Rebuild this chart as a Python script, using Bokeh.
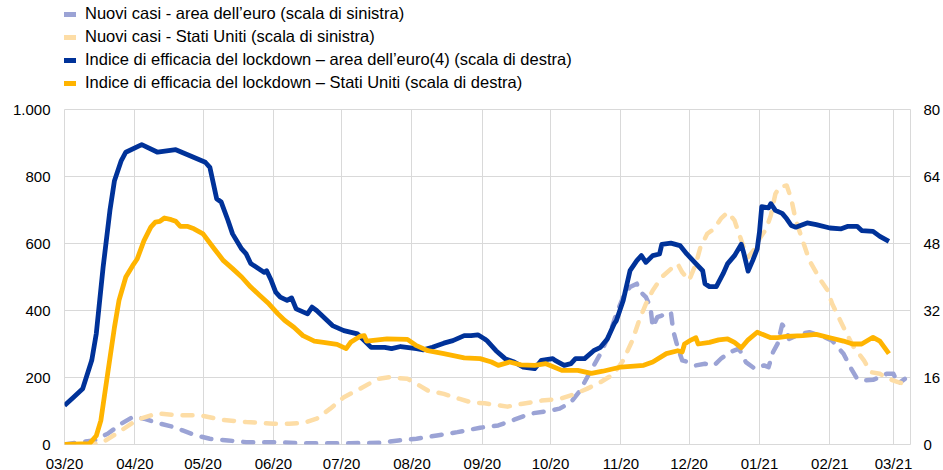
import pandas as pd
from bokeh.plotting import figure
from bokeh.layouts import column
from bokeh.models import (Range1d, LinearAxis, FixedTicker, DatetimeTickFormatter,
                          Legend, LegendItem)
from bokeh.embed import file_html
from bokeh.resources import INLINE

# ---------------- data ----------------
ea_idx_dates = ["2020-03-01","2020-03-05","2020-03-09","2020-03-13","2020-03-15","2020-03-18","2020-03-21",
    "2020-03-23","2020-03-26","2020-03-28","2020-04-04","2020-04-11","2020-04-19","2020-04-25","2020-05-02",
    "2020-05-04","2020-05-07","2020-05-09","2020-05-12","2020-05-14","2020-05-18","2020-05-20","2020-05-22",
    "2020-05-28","2020-05-29","2020-05-31","2020-06-02","2020-06-04","2020-06-07","2020-06-09","2020-06-11",
    "2020-06-16","2020-06-18","2020-06-20","2020-06-27","2020-07-02","2020-07-08","2020-07-11","2020-07-14",
    "2020-07-20","2020-07-23","2020-07-27","2020-08-03","2020-08-06","2020-08-10","2020-08-15","2020-08-19",
    "2020-08-24","2020-08-27","2020-08-30","2020-09-02","2020-09-03","2020-09-07","2020-09-11","2020-09-15",
    "2020-09-19","2020-09-24","2020-09-27","2020-10-02","2020-10-03","2020-10-07","2020-10-10","2020-10-12",
    "2020-10-16","2020-10-20","2020-10-23","2020-10-26","2020-10-29","2020-10-30","2020-11-02","2020-11-05",
    "2020-11-08","2020-11-10","2020-11-12","2020-11-15","2020-11-18","2020-11-19","2020-11-23","2020-11-27",
    "2020-11-30","2020-12-04","2020-12-07","2020-12-08","2020-12-10","2020-12-13","2020-12-16","2020-12-18",
    "2020-12-21","2020-12-24","2020-12-25","2020-12-27","2020-12-29","2020-12-31","2021-01-01","2021-01-02",
    "2021-01-05","2021-01-06","2021-01-08","2021-01-11","2021-01-13","2021-01-15","2021-01-17","2021-01-22",
    "2021-01-26","2021-02-01","2021-02-06","2021-02-09","2021-02-13","2021-02-15","2021-02-20","2021-02-23",
    "2021-02-27"]
ea_idx_values = [9.3,11.3,13.3,20.1,26.5,42.3,55.9,63.0,67.8,69.8,71.6,69.8,70.4,69.0,67.4,
    66.2,58.7,57.9,53.5,50.3,46.7,45.5,43.2,41.1,41.5,39.2,36.4,35.2,34.4,35.0,32.4,
    31.2,32.8,32.0,28.4,27.2,26.4,24.8,23.2,23.2,22.9,23.4,22.9,22.6,23.2,24.2,24.8,
    26.0,26.0,26.2,25.2,24.8,22.4,20.5,19.7,18.5,18.1,20.1,20.5,20.1,18.9,19.3,20.5,
    20.5,22.4,23.2,25.2,28.8,29.6,34.4,41.5,43.9,45.1,43.5,45.1,45.5,47.8,48.1,47.5,
    45.5,43.2,41.5,38.4,37.7,37.7,40.8,43.2,45.1,47.8,45.9,41.4,43.9,46.7,50.7,56.8,
    56.5,57.5,55.9,55.2,53.9,52.3,51.9,52.9,52.5,51.7,51.5,52.1,52.1,51.1,50.9,49.7,
    48.5]

us_idx_dates = ["2020-03-01","2020-03-12","2020-03-15","2020-03-17","2020-03-20","2020-03-23","2020-03-25",
    "2020-03-28","2020-03-31","2020-04-02","2020-04-05","2020-04-08","2020-04-10","2020-04-12","2020-04-14",
    "2020-04-17","2020-04-19","2020-04-21","2020-04-24","2020-04-27","2020-05-01","2020-05-06","2020-05-10",
    "2020-05-14","2020-05-18","2020-05-22","2020-05-26","2020-05-30","2020-06-03","2020-06-06","2020-06-10",
    "2020-06-14","2020-06-19","2020-06-23","2020-06-29","2020-07-03","2020-07-05","2020-07-09","2020-07-11",
    "2020-07-12","2020-07-17","2020-07-21","2020-07-30","2020-08-03","2020-08-08","2020-08-15","2020-08-24",
    "2020-08-31","2020-09-05","2020-09-08","2020-09-13","2020-09-18","2020-09-24","2020-09-29","2020-10-06",
    "2020-10-13","2020-10-19","2020-10-24","2020-11-01","2020-11-11","2020-11-15","2020-11-21","2020-11-26",
    "2020-11-28","2020-11-29","2020-12-02","2020-12-04","2020-12-05","2020-12-10","2020-12-14","2020-12-18",
    "2020-12-21","2020-12-24","2020-12-27","2020-12-31","2021-01-06","2021-01-09","2021-01-13","2021-01-20",
    "2021-01-26","2021-02-01","2021-02-07","2021-02-11","2021-02-15","2021-02-20","2021-02-23","2021-02-27"]
us_idx_values = [0.0,0.2,2.1,5.7,16.9,28.0,34.4,40.0,42.7,44.3,48.7,51.9,53.1,53.3,54.1,
    53.7,53.3,52.1,52.1,51.5,50.3,46.7,43.9,42.0,40.0,37.6,35.6,33.6,31.2,29.6,28.0,
    26.0,24.7,24.4,23.9,22.9,24.4,25.8,26.0,24.7,25.0,25.2,25.1,23.6,22.4,21.7,20.7,
    20.5,19.7,18.9,19.7,19.0,18.9,19.3,17.7,17.7,17.0,17.5,18.5,18.9,19.7,21.7,22.4,
    22.1,24.0,25.0,25.5,24.0,24.4,25.0,25.2,24.4,23.1,25.0,26.8,25.5,25.5,25.8,26.0,
    26.3,25.5,24.7,24.0,24.0,25.6,24.7,21.7]

ea_cases_dates = ["2020-03-01","2020-03-08","2020-03-14","2020-03-20","2020-03-26","2020-03-31","2020-04-05",
    "2020-04-11","2020-04-17","2020-04-22","2020-04-28","2020-05-04","2020-05-12","2020-05-20","2020-06-01",
    "2020-06-13","2020-07-05","2020-07-18","2020-07-26","2020-08-03","2020-08-12","2020-08-21","2020-08-31",
    "2020-09-08","2020-09-15","2020-09-22","2020-09-29","2020-10-05","2020-10-10","2020-10-14","2020-10-18",
    "2020-10-23","2020-10-27","2020-10-30","2020-11-02","2020-11-05","2020-11-08","2020-11-09","2020-11-12",
    "2020-11-14","2020-11-15","2020-11-17","2020-11-19","2020-11-23","2020-11-24","2020-11-26","2020-11-28",
    "2020-12-01","2020-12-04","2020-12-08","2020-12-12","2020-12-15","2020-12-19","2020-12-23","2020-12-26",
    "2020-12-30","2021-01-03","2021-01-05","2021-01-07","2021-01-09","2021-01-11","2021-01-13","2021-01-14",
    "2021-01-19","2021-01-23","2021-01-28","2021-02-02","2021-02-07","2021-02-10","2021-02-13","2021-02-16",
    "2021-02-20","2021-02-23","2021-02-26","2021-03-01","2021-03-03","2021-03-06"]
ea_cases_values = [0,7,12,32,62,82,77,64,54,42,27,17,12,7,7,
    4,4,5,12,17,27,37,50,57,74,92,99,107,126,161,211,
    271,330,390,440,470,480,460,440,410,350,380,385,395,340,290,251,
    245,236,241,236,256,276,286,246,226,236,231,276,301,358,340,315,
    330,335,325,310,271,231,196,191,193,201,211,211,181,196]

us_cases_dates = ["2020-03-01","2020-03-12","2020-03-18","2020-03-26","2020-04-02","2020-04-11","2020-04-20",
    "2020-04-30","2020-05-09","2020-05-20","2020-06-01","2020-06-08","2020-06-14","2020-06-20","2020-06-26",
    "2020-07-02","2020-07-09","2020-07-17","2020-07-22","2020-07-30","2020-08-03","2020-08-08","2020-08-15",
    "2020-08-22","2020-08-27","2020-09-02","2020-09-06","2020-09-12","2020-09-18","2020-09-27","2020-10-05",
    "2020-10-11","2020-10-17","2020-10-23","2020-10-29","2020-11-02","2020-11-06","2020-11-09","2020-11-12",
    "2020-11-15","2020-11-19","2020-11-23","2020-11-26","2020-11-28","2020-12-01","2020-12-04","2020-12-06",
    "2020-12-09","2020-12-12","2020-12-15","2020-12-18","2020-12-21","2020-12-23","2020-12-25","2020-12-27",
    "2020-12-30","2021-01-01","2021-01-04","2021-01-06","2021-01-08","2021-01-10","2021-01-13","2021-01-15",
    "2021-01-17","2021-01-20","2021-01-23","2021-01-28","2021-01-31","2021-02-02","2021-02-07","2021-02-11",
    "2021-02-16","2021-02-19","2021-02-23","2021-02-27","2021-03-03","2021-03-06"]
us_cases_values = [0,0,7,42,74,93,87,87,74,67,62,62,64,77,107,
    141,166,196,201,196,181,161,151,136,126,123,119,113,121,131,136,
    149,166,186,211,251,310,370,420,460,500,524,539,514,490,539,589,
    629,644,674,693,669,629,589,559,584,614,644,684,748,770,773,733,
    669,609,549,490,460,420,350,296,251,216,211,196,186,181]

left_ticks = [0, 200, 400, 600, 800, 1000]
left_tick_labels = {1000: "1.000"}
right_ticks = [0, 16, 32, 48, 64, 80]
x_start, x_end = "2020-03-01", "2021-03-08 12:00"
month_ticks = pd.date_range("2020-03-01", "2021-03-01", freq="MS")

labels = ["Nuovi casi - area dell\u2019euro (scala di sinistra)",
          "Nuovi casi - Stati Uniti (scala di sinistra)",
          "Indice di efficacia del lockdown \u2013 area dell\u2019euro(4) (scala di destra)",
          "Indice di efficacia del lockdown \u2013 Stati Uniti (scala di destra)"]
colors = ["#9BA3D5", "#FDDDA6", "#003299", "#FFB400"]

FONT = "Liberation Sans"
TOTAL_W = 940
NAN = float("nan")

# ---------------- legend strip ----------------
top = figure(width=TOTAL_W, height=100, min_border=0, x_axis_location=None, y_axis_location=None,
             output_backend="svg", toolbar_location=None,
             x_range=Range1d(0, 1), y_range=Range1d(0, 1))
top.grid.visible = False
top.outline_line_color = None
top.background_fill_color = "white"
top.border_fill_color = "white"
items = []
for lab, c in zip(labels, colors):
    r = top.line(x=[NAN], y=[NAN], line_color=c, line_width=5)
    items.append(LegendItem(label=lab, renderers=[r]))
legend = Legend(items=items, location=(-4, 8), orientation="vertical",
                label_text_font=FONT, label_text_font_size="16.5px", label_text_color="#000000",
                glyph_width=16, glyph_height=6, label_standoff=9, spacing=4,
                padding=0, margin=0, border_line_color=None, background_fill_alpha=0,
                label_height=17)
top.add_layout(legend, "center")

# ---------------- chart ----------------
p = figure(x_axis_type="datetime", frame_width=846, frame_height=335,
           min_border_left=64, min_border_right=TOTAL_W - 64 - 846, min_border_top=9,
           min_border_bottom=10,
           output_backend="svg", toolbar_location=None,
           x_range=Range1d(pd.Timestamp(x_start), pd.Timestamp(x_end)),
           y_range=Range1d(0, 1000))
p.extra_y_ranges = {"idx": Range1d(0, 80)}
p.background_fill_color = "white"
p.border_fill_color = "white"
p.outline_line_color = "#D9D9D9"

tick_ms = [t.value // 10**6 for t in month_ticks]
p.xaxis.ticker = FixedTicker(ticks=tick_ms)
p.xaxis.formatter = DatetimeTickFormatter(months="%m/%y", days="%m/%y", years="%m/%y")
p.yaxis.ticker = FixedTicker(ticks=left_ticks)
p.yaxis.major_label_overrides = left_tick_labels

ax_r = LinearAxis(y_range_name="idx", ticker=FixedTicker(ticks=right_ticks))
p.add_layout(ax_r, "right")

for ax in [p.xaxis[0], p.yaxis[0], ax_r]:
    ax.axis_line_color = None
    ax.major_tick_line_color = None
    ax.minor_tick_line_color = None
    ax.major_tick_out = 0
    ax.major_tick_in = 0
    ax.major_label_text_font = FONT
    ax.major_label_text_font_size = "15px"
    ax.major_label_text_color = "#000000"
p.xaxis.major_label_standoff = 10
p.yaxis[0].major_label_standoff = 14
ax_r.major_label_standoff = 13

p.xgrid.ticker = FixedTicker(ticks=tick_ms)
p.ygrid.ticker = FixedTicker(ticks=left_ticks)
p.grid.grid_line_color = "#D9D9D9"
p.grid.grid_line_width = 1

src = [
    (ea_cases_dates, ea_cases_values, "default", "dash"),
    (us_cases_dates, us_cases_values, "default", "dash"),
    (ea_idx_dates, ea_idx_values, "idx", "solid"),
    (us_idx_dates, us_idx_values, "idx", "solid"),
]
for (d, v, rng, style), c in zip(src, colors):
    x = pd.to_datetime(d)
    if style == "dash":
        p.line(x, v, line_color=c, line_width=4.5, line_dash="10 11", line_cap="round",
               line_join="round", y_range_name=rng)
    else:
        p.line(x, v, line_color=c, line_width=4.8, line_join="round", y_range_name=rng)

layout = column(top, p, spacing=0)
open("out.html", "w").write(file_html(layout, INLINE))
